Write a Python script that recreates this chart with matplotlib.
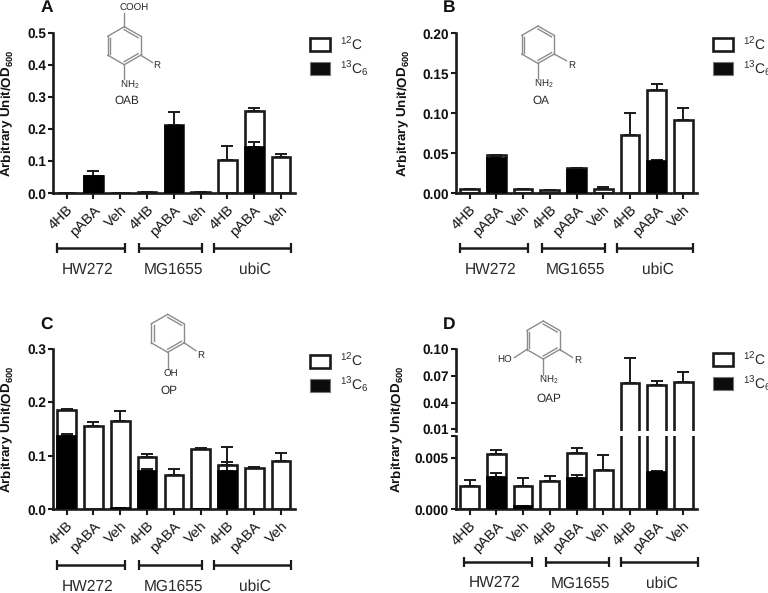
import numpy as np
import matplotlib
matplotlib.use('Agg')
import matplotlib.pyplot as plt
from matplotlib.lines import Line2D
from matplotlib.patches import Patch
from matplotlib.transforms import blended_transform_factory

plt.rcParams['font.family'] = ['Liberation Sans', 'DejaVu Sans']
plt.rcParams['mathtext.fontset'] = 'custom'
plt.rcParams['mathtext.rm'] = 'Liberation Sans'
plt.rcParams['mathtext.bf'] = 'Liberation Sans:bold'
plt.rcParams['mathtext.default'] = 'regular'
plt.rcParams['text.hinting'] = 'none'

W, H = 768, 593

treatments = ['4HB', 'pABA', 'Veh'] * 3
strains = ['HW272', 'MG1655', 'ubiC']

# total bar (12C outline), its error, 13C6 black bar, its error
a_total = [0.002, 0.055, 0.002, 0.004, 0.212, 0.005, 0.105, 0.255, 0.112]
a_total_err = [0, 0, 0, 0, 0.040, 0, 0.043, 0.010, 0.010]
a_black = [0, 0.055, 0, 0, 0.208, 0, 0, 0.145, 0]
a_black_err = [0, 0.013, 0, 0, 0.006, 0, 0, 0.015, 0]

b_total = [0.005, 0.048, 0.005, 0.004, 0.032, 0.006, 0.073, 0.129, 0.091]
b_total_err = [0.0005, 0, 0.0005, 0.0005, 0, 0.0015, 0.027, 0.008, 0.015]
b_black = [0, 0.044, 0, 0, 0.029, 0, 0, 0.040, 0]
b_black_err = [0, 0.002, 0, 0, 0.001, 0, 0, 0.002, 0]

c_total = [0.186, 0.156, 0.165, 0.098, 0.065, 0.112, 0.082, 0.077, 0.091]
c_total_err = [0.0005, 0.007, 0.019, 0.005, 0.011, 0.002, 0.035, 0.002, 0.014]
c_black = [0.136, 0, 0.002, 0.072, 0, 0.001, 0.072, 0, 0]
c_black_err = [0.005, 0, 0, 0.003, 0, 0, 0.017, 0, 0]

d_total = [0.0023, 0.0054, 0.0023, 0.0027, 0.00545, 0.0038, 0.0622, 0.0593, 0.0633]
d_total_err = [0.0005, 0.0003, 0.0007, 0.00056, 0.0005, 0.0015, 0.0274, 0.0052, 0.0106]
d_black = [0, 0.0031, 0.00035, 0, 0.003, 0, 0, 0.0036, 0]
d_black_err = [0, 0.0004, 0, 0, 0.00035, 0, 0, 0.0001, 0]

a_ticks = [0.0, 0.1, 0.2, 0.3, 0.4, 0.5]
b_ticks = [0.00, 0.05, 0.10, 0.15, 0.20]
c_ticks = [0.0, 0.1, 0.2, 0.3]
d_low_ticks = [0.000, 0.005]
d_high_ticks = [0.01, 0.04, 0.07, 0.10]

EDGE = '#1a1a1a'
GREY = '#8c8c8c'
TEXT = '#2a2a2a'


def fx(x):
    return x / W


def fy(y):
    return 1 - y / H


fig = plt.figure(figsize=(W / 100, H / 100), dpi=100)


def make_axes(left, right, top, bottom):
    ax = fig.add_axes([fx(left), fy(bottom), (right - left) / W, (bottom - top) / H])
    ax.patch.set_alpha(0)
    ax.spines['top'].set_visible(False)
    ax.spines['right'].set_visible(False)
    ax.spines['left'].set_linewidth(1.9)
    ax.spines['bottom'].set_linewidth(1.9)
    ax.spines['left'].set_color(EDGE)
    ax.spines['bottom'].set_color(EDGE)
    ax.set_xlim(-0.5, 8.52)
    ax.tick_params(axis='y', length=3.8, width=1.5, color=EDGE, pad=1.5, labelsize=9.8, labelcolor='#111111')
    ax.tick_params(axis='x', length=4.2, width=1.5, color=EDGE)
    return ax


def draw_bars(ax, total, total_err, black, black_err):
    x = np.arange(len(total))
    ax.errorbar(x, total, yerr=[np.zeros(9), total_err], fmt='none', ecolor=EDGE,
                elinewidth=1.4, capsize=4.2, capthick=1.4, zorder=1)
    ax.bar(x, total, width=0.7, facecolor='white', edgecolor=EDGE, linewidth=1.9, zorder=2)
    b = np.array(black)
    m = b > 0
    ax.errorbar(x[m], b[m], yerr=[np.zeros(m.sum()), np.array(black_err)[m]], fmt='none',
                ecolor=EDGE, elinewidth=1.4, capsize=4.2, capthick=1.4, zorder=3)
    ax.bar(x[m], b[m], width=0.7, facecolor='black', edgecolor='black', linewidth=1.2, zorder=4)


def set_yaxis(ax, ticks, fmt, extra=None):
    pos = list(ticks)
    labs = [fmt % t for t in ticks]
    if extra is not None:
        pos.append(extra)
        labs.append('')
    ax.set_yticks(pos)
    ax.set_yticklabels(labs, fontweight='bold')


def set_xaxis(ax):
    ax.set_xticks(np.arange(9))
    ax.set_xticklabels(treatments, rotation=45, ha='right', va='top',
                       rotation_mode='anchor', fontsize=10.4, color='#111111')
    ax.tick_params(axis='x', pad=3)


def draw_groups(ax, bar_y, label_y, shift=0.0):
    tr = blended_transform_factory(ax.transData, fig.transFigure)
    spans = [(-0.37, 2.17), (2.71, 5.05), (5.51, 8.37)]
    centers = [0.77, 3.97, 7.03]
    for (a, b), c, name in zip(spans, centers, strains):
        ax.plot([a + shift, b + shift], [fy(bar_y)] * 2, color=EDGE, lw=1.8, transform=tr,
                clip_on=False, marker='|', ms=7.5, mew=1.6, solid_capstyle='butt')
        ax.text(c + shift, fy(label_y), name, transform=tr, ha='center', va='center',
                fontsize=11.2, color=TEXT)


def draw_legend(ax, x, y):
    handles = [Patch(facecolor='white', edgecolor=EDGE, linewidth=1.9),
               Patch(facecolor='#0c0c0c', edgecolor='#777777', linewidth=0.8)]
    ax.legend(handles, ['$^{12}$C', '$^{13}$C$_{6}$'], loc='upper left',
              bbox_to_anchor=(fx(x), fy(y)), bbox_transform=fig.transFigure,
              frameon=False, borderpad=0, borderaxespad=0, fontsize=10,
              handlelength=1.44, handleheight=1.1, labelspacing=0.5,
              handletextpad=0.72, labelcolor=TEXT)


def ylabel(x, y):
    fig.text(fx(x), fy(y), 'Arbitrary Unit/OD$_{600}$', rotation=90, ha='center', va='center',
             fontsize=9.6, fontweight='bold', color='#111111')


def panel_letter(x, y, s):
    fig.text(fx(x), fy(y), s, ha='center', va='center', fontsize=12.5, fontweight='bold', color='#111111')


def bond(x0, y0, x1, y1):
    fig.add_artist(Line2D([fx(x0), fx(x1)], [fy(y0), fy(y1)], color=GREY, lw=1.0,
                          transform=fig.transFigure))


def ring(cx, cy, r):
    ang = np.radians([90, 30, -30, -90, -150, 150])
    vx = cx + r * np.cos(ang)
    vy = cy - r * np.sin(ang)
    for i in range(6):
        j = (i + 1) % 6
        bond(vx[i], vy[i], vx[j], vy[j])
    # inner strokes of the three double bonds
    for i in [0, 2, 4]:
        j = (i + 1) % 6
        mx0 = cx + (vx[i] - cx) * 0.84
        my0 = cy + (vy[i] - cy) * 0.84
        mx1 = cx + (vx[j] - cx) * 0.84
        my1 = cy + (vy[j] - cy) * 0.84
        bond(mx0, my0, mx1, my1)
    return vx, vy


def chem_text(x, y, s, size=7):
    fig.text(fx(x), fy(y), s, ha='center', va='center', fontsize=size, color=TEXT)


# panel A
ax = make_axes(53.3, 295, 32.7, 193.3)
ax.set_ylim(0, 0.5)
draw_bars(ax, a_total, a_total_err, a_black, a_black_err)
set_yaxis(ax, a_ticks, '%.1f')
set_xaxis(ax)
draw_groups(ax, 248.3, 270)
draw_legend(ax, 310, 36)
ylabel(7.5, 113)
panel_letter(47, 8, 'A')
vx, vy = ring(124.3, 45.7, 19)
bond(vx[0], vy[0], vx[0], 13)
bond(vx[2], vy[2], 152.5, 62.5)
bond(vx[3], vy[3], vx[3], 79)
chem_text(134.3, 8.5, 'COOH')
chem_text(157, 65.7, 'R')
chem_text(130, 85, 'NH$_{2}$')
chem_text(127, 100.7, 'OAB', 8.5)

# panel B
ax = make_axes(456.3, 697.3, 33.3, 193.3)
ax.set_ylim(0, 0.2)
draw_bars(ax, b_total, b_total_err, b_black, b_black_err)
set_yaxis(ax, b_ticks, '%.2f')
set_xaxis(ax)
draw_groups(ax, 248.3, 270)
draw_legend(ax, 713, 36)
ylabel(404, 113)
panel_letter(449, 8, 'B')
vx, vy = ring(538, 44.7, 18.7)
bond(vx[2], vy[2], 566.5, 60.7)
bond(vx[3], vy[3], vx[3], 78.5)
chem_text(571.5, 65, 'R')
chem_text(543.3, 84, 'NH$_{2}$')
chem_text(540.7, 100.7, 'OA', 8.5)

# panel C
ax = make_axes(53.3, 295, 348.7, 509.3)
ax.set_ylim(0, 0.3)
draw_bars(ax, c_total, c_total_err, c_black, c_black_err)
set_yaxis(ax, c_ticks, '%.1f')
set_xaxis(ax)
draw_groups(ax, 565, 586.7)
draw_legend(ax, 310, 352.5)
ylabel(7.5, 429)
panel_letter(47, 325, 'C')
vx, vy = ring(167.7, 333.3, 19)
bond(vx[2], vy[2], 196, 350.7)
bond(vx[3], vy[3], vx[3], 368)
chem_text(201, 355, 'R')
chem_text(170.7, 374.7, 'OH')
chem_text(169.3, 390.7, 'OP', 8.5)

# panel D has a broken y axis
ax_low = make_axes(456.3, 697.3, 436, 509.3)
ax_low.set_ylim(0, 0.0071)
draw_bars(ax_low, d_total, d_total_err, d_black, d_black_err)
set_yaxis(ax_low, d_low_ticks, '%.3f', extra=0.0071)
set_xaxis(ax_low)
draw_groups(ax_low, 561.7, 583.3, shift=0.16)
ax_high = make_axes(456.3, 697.3, 349, 430.7)
ax_high.set_ylim(0.0084, 0.10)
ax_high.spines['bottom'].set_visible(False)
ax_high.set_xticks([])
draw_bars(ax_high, d_total, d_total_err, d_black, d_black_err)
set_yaxis(ax_high, d_high_ticks, '%.2f')
draw_legend(ax_low, 713, 351)
ylabel(397.5, 429)
panel_letter(449, 325, 'D')
vx, vy = ring(543.3, 340, 19)
bond(vx[2], vy[2], 572.5, 357.5)
bond(vx[3], vy[3], vx[3], 375)
bond(vx[4], vy[4], 514.5, 357.5)
chem_text(577.5, 360, 'R')
chem_text(505, 360, 'HO')
chem_text(549, 380, 'NH$_{2}$')
chem_text(549, 399, 'OAP', 8.5)

fig.savefig('out.png', dpi=100, facecolor='white')
